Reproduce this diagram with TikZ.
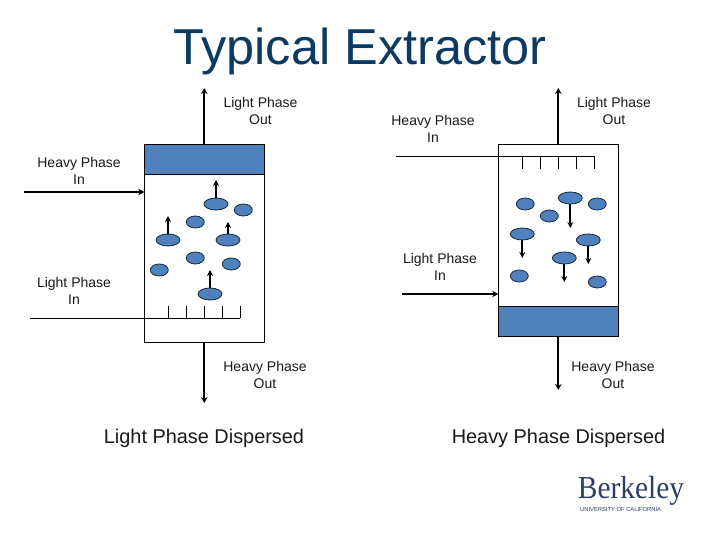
\documentclass[tikz,border=0pt]{standalone}
\usepackage{fontspec}
\setmainfont{Liberation Sans}
\newfontfamily\logofont{Liberation Serif}
\usetikzlibrary{shapes.geometric,arrows.meta}
\definecolor{drop}{HTML}{4F81BD}
\definecolor{navy}{HTML}{0B3A63}
\definecolor{logoblue}{HTML}{2B3F66}
\definecolor{ink}{HTML}{1A1A1A}
\tikzset{
  vessel/.style={draw=black,line width=1pt,minimum width=120pt,inner sep=0pt,outer sep=0pt},
  layer/.style={vessel,fill=drop},
  bigdrop/.style={ellipse,draw=black!70!drop,line width=.8pt,fill=drop,minimum width=24pt,minimum height=12pt,inner sep=0pt,outer sep=0pt},
  smalldrop/.style={bigdrop,minimum width=18pt},
  flow/.style={line width=2.2pt,-{Stealth[length=6pt,width=6.5pt]}},
  rise/.style={line width=2pt,-{Stealth[length=6pt,width=6pt]}},
  pipe/.style={line width=1pt,draw=black},
  lab/.style={align=center,font=\fontsize{14}{17}\selectfont,text=ink,inner sep=0pt},
  captext/.style={font=\fontsize{19.9}{24}\selectfont,text=ink,inner sep=0pt},
}
\begin{document}
\begin{tikzpicture}[x=1pt,y=-1pt]
\useasboundingbox (0,0) rectangle (720,540);
\fill[white] (0,0) rectangle (720,540);
\node[inner sep=0pt,text=navy,font=\fontsize{50.5}{56}\selectfont] (title) at (360,51) {Typical Extractor};

% left vessel
\node[vessel,minimum height=198pt] (LV) at (204.3,243.3) {};
\node[layer,minimum height=30pt] (LT) at (204.3,159.3) {};
\coordinate (LTo) at (204.3,88);
\coordinate (LHi) at (24,192);
\coordinate (LHe) at (144.3,192);
\coordinate (LBo) at (204.3,403);
\coordinate (LLi) at (30,318.3);
\draw[flow] (LT.north) -- (LTo);
\draw[flow] (LHi) -- (LHe);
\draw[flow] (LV.south) -- (LBo);
\coordinate (Ls1) at (168.3,306);
\coordinate (Ls2) at (186.3,306);
\coordinate (Ls3) at (204.3,306);
\coordinate (Ls4) at (222.3,306);
\coordinate (Ls5) at (240.3,306);
\coordinate (Lb1) at (168.3,318.3);
\coordinate (Lb2) at (186.3,318.3);
\coordinate (Lb3) at (204.3,318.3);
\coordinate (Lb4) at (222.3,318.3);
\coordinate (Lb5) at (240.3,318.3);
\draw[pipe] (LLi) -- (Lb5);
\draw[pipe] (Lb1) -- (Ls1) (Lb2) -- (Ls2) (Lb3) -- (Ls3) (Lb4) -- (Ls4) (Lb5) -- (Ls5);
\node[bigdrop] (La) at (216,204) {};
\node[smalldrop] (Lb) at (243.3,210) {};
\node[smalldrop] (Lc) at (195.3,222) {};
\node[bigdrop] (Ld) at (168,240) {};
\node[bigdrop] (Le) at (228,240) {};
\node[smalldrop] (Lf) at (195.3,258) {};
\node[smalldrop] (Lg) at (231.3,264) {};
\node[smalldrop] (Lh) at (159.3,270) {};
\node[bigdrop] (Li) at (210,294) {};
\coordinate (Lat) at (216,180);
\coordinate (Ldt) at (168,216);
\coordinate (Let) at (228,222);
\coordinate (Lit) at (210,270);
\draw[rise] (La.north) -- (Lat);
\draw[rise] (Ld.north) -- (Ldt);
\draw[rise] (Le.north) -- (Let);
\draw[rise] (Li.north) -- (Lit);

% right vessel
\node[vessel,minimum height=192pt] (RV) at (558.3,240.3) {};
\node[layer,minimum height=30pt] (RB) at (558.3,321.3) {};
\coordinate (RTo) at (558.3,88);
\coordinate (RLi) at (402,294);
\coordinate (RLe) at (498.3,294);
\coordinate (RBo) at (558.3,390);
\coordinate (RHi) at (396,156.3);
\draw[flow] (RV.north) -- (RTo);
\draw[flow] (RLi) -- (RLe);
\draw[flow] (RB.south) -- (RBo);
\coordinate (Rs1) at (522.3,168.7);
\coordinate (Rs2) at (540.3,168.7);
\coordinate (Rs3) at (558.3,168.7);
\coordinate (Rs4) at (576.3,168.7);
\coordinate (Rs5) at (594.3,168.7);
\coordinate (Rb1) at (522.3,156.3);
\coordinate (Rb2) at (540.3,156.3);
\coordinate (Rb3) at (558.3,156.3);
\coordinate (Rb4) at (576.3,156.3);
\coordinate (Rb5) at (594.3,156.3);
\draw[pipe] (RHi) -- (Rb5);
\draw[pipe] (Rb1) -- (Rs1) (Rb2) -- (Rs2) (Rb3) -- (Rs3) (Rb4) -- (Rs4) (Rb5) -- (Rs5);
\node[smalldrop] (Ra) at (525.3,204) {};
\node[bigdrop] (Rb) at (570.3,198) {};
\node[smalldrop] (Rc) at (597.3,204) {};
\node[smalldrop] (Rd) at (549.3,216) {};
\node[bigdrop] (Re) at (522.3,234) {};
\node[bigdrop] (Rf) at (588.3,240) {};
\node[bigdrop] (Rg) at (564.3,258) {};
\node[smalldrop] (Rh) at (519.3,276) {};
\node[smalldrop] (Ri) at (597.3,282) {};
\coordinate (Rbt) at (570.3,228);
\coordinate (Ret) at (522.3,258);
\coordinate (Rft) at (588.3,264);
\coordinate (Rgt) at (564.3,282);
\draw[rise] (Rb.south) -- (Rbt);
\draw[rise] (Re.south) -- (Ret);
\draw[rise] (Rf.south) -- (Rft);
\draw[rise] (Rg.south) -- (Rgt);

% labels
\node[lab] (l1) at (260.5,110.5) {Light Phase\\Out};
\node[lab] (l2) at (79,170.5) {Heavy Phase\\In};
\node[lab] (l3) at (74,290.5) {Light Phase\\In};
\node[lab] (l4) at (265,374.5) {Heavy Phase\\Out};
\node[lab] (r1) at (433,128.5) {Heavy Phase\\In};
\node[lab] (r2) at (614,110.5) {Light Phase\\Out};
\node[lab] (r3) at (440,266.5) {Light Phase\\In};
\node[lab] (r4) at (613,374.5) {Heavy Phase\\Out};
\node[captext] (c1) at (204,438) {Light Phase Dispersed};
\node[captext] (c2) at (558.5,438) {Heavy Phase Dispersed};

% logo
\node[inner sep=0pt,text=logoblue,font=\logofont\fontsize{32}{32}\selectfont] (logo) at (631,491) {\scalebox{.92}[1]{Berkeley}};
\node[inner sep=0pt,text=logoblue,font=\fontsize{5.8}{6}\selectfont,anchor=west] (logo2) at (580,509.5) {UNIVERSITY OF CALIFORNIA};
\end{tikzpicture}
\end{document}
